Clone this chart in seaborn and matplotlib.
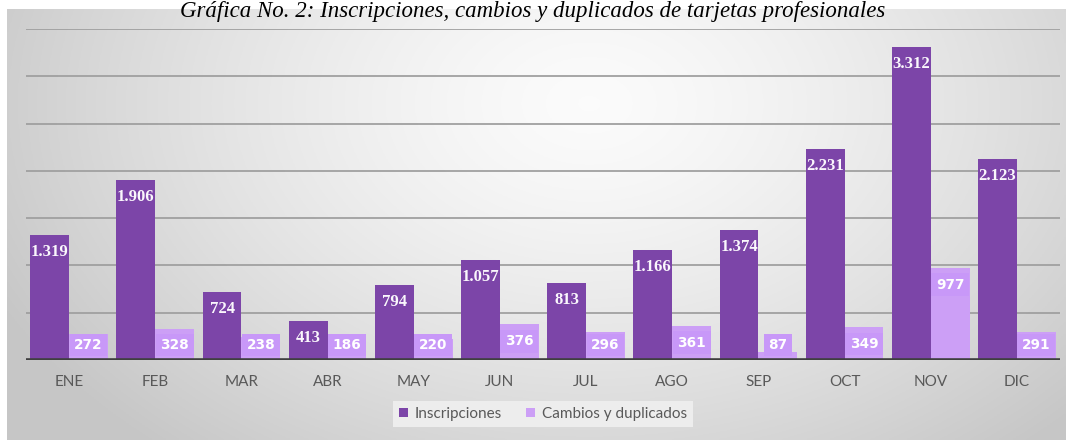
import numpy as np
import pandas as pd
import matplotlib
matplotlib.use("Agg")
import matplotlib.pyplot as plt
import seaborn as sns

# Monthly figures
meses = ["ENE", "FEB", "MAR", "ABR", "MAY", "JUN", "JUL", "AGO", "SEP", "OCT", "NOV", "DIC"]
inscripciones = [1319, 1906, 724, 413, 794, 1057, 813, 1166, 1374, 2231, 3312, 2123]
cambios = [272, 328, 238, 186, 220, 376, 296, 361, 87, 349, 977, 291]
series = ["Inscripciones", "Cambios y duplicados"]

titulo = "Gráfica No. 2: Inscripciones, cambios y duplicados de tarjetas profesionales"

df = pd.DataFrame({
    "mes": meses * 2,
    "serie": [series[0]] * len(meses) + [series[1]] * len(meses),
    "valor": inscripciones + cambios,
})

sns.set_theme(style="white")
plt.rcParams["font.family"] = ["Lato", "DejaVu Sans"]

W, H = 1066, 440
fig = plt.figure(figsize=(W / 100, H / 100), dpi=100)
fig.patch.set_facecolor("white")

# Grey radial backdrop of the chart panel
px0, py_top = 7, 9
bg = fig.add_axes([px0 / W, 0, 1 - px0 / W, (H - py_top) / H], zorder=0)
gx = np.linspace(0, 1, 400)
gy = np.linspace(0, 1, 200)
X, Y = np.meshgrid(gx, gy)
r = np.sqrt(((X - 0.55) / 0.62) ** 2 + ((Y - 0.78) / 1.05) ** 2)
r = np.clip(r, 0, 1)
light = np.array([0.985, 0.985, 0.985])
dark = np.array([0.78, 0.78, 0.78])
img = light[None, None, :] + (dark - light)[None, None, :] * (r[..., None] ** 1.4)
bg.imshow(img, origin="lower", aspect="auto", extent=[0, 1, 0, 1])
bg.set_axis_off()

ax = fig.add_axes([26 / W, 80 / H, (1060 - 26) / W, (360 - 29) / H], zorder=1)
ax.set_facecolor("none")

c_dark = "#7C45A8"
c_light = "#CC9FF6"
sns.barplot(data=df, x="mes", y="valor", hue="serie", order=meses, hue_order=series,
            palette=[c_dark, c_light], width=0.9, saturation=1, gap=0,
            edgecolor="none", linewidth=0, ax=ax, legend=True)

ax.set_ylim(0, 3500)
ax.set_xlim(-0.5, len(meses) - 0.5)
ax.set_yticks(np.arange(500, 3501, 500))
ax.yaxis.grid(True, color="#A0A0A0", linewidth=1.3)
ax.set_axisbelow(True)
ax.set_yticklabels([])
ax.tick_params(axis="y", length=0)
ax.tick_params(axis="x", length=0, pad=11, labelsize=11, labelcolor="#595959")
ax.set_xlabel("")
ax.set_ylabel("")
for s in ax.spines.values():
    s.set_visible(False)
ax.axhline(0, color="#3F3F3F", linewidth=2.6, zorder=5)

# Value labels inside the top of each bar
units_per_px = 3500 / 331
off = 17 * units_per_px
floor = 15 * units_per_px
for bars, vals, kind in zip(ax.containers, [inscripciones, cambios], ["dark", "light"]):
    for bar, v in zip(bars, vals):
        xc = bar.get_x() + bar.get_width() / 2
        yc = max(v - off, floor)
        lbl = f"{v:,}".replace(",", ".")
        if kind == "dark":
            ax.text(xc, yc, lbl, ha="center", va="center", color="#FAF7FC",
                    fontsize=12, fontweight="bold", family=["Liberation Serif"], zorder=6)
        else:
            ax.text(xc, yc, lbl, ha="center", va="center", color="white",
                    fontsize=9.8, fontweight="bold", family=["DejaVu Sans"], zorder=6,
                    bbox=dict(boxstyle="square,pad=0.33", fc="#C898F8", ec="none"))

handles, labels = ax.get_legend_handles_labels()
ax.legend(handles, labels, loc="center", bbox_to_anchor=(543 / W, 1 - 414 / H),
          bbox_transform=fig.transFigure, ncol=2, frameon=True, fancybox=False,
          facecolor="#EDEDED", edgecolor="none", framealpha=1,
          handlelength=0.6, handleheight=0.6, handletextpad=0.4, columnspacing=1.6,
          fontsize=11, labelcolor="#595959", borderpad=0.4)

fig.text(533 / W, 1 - 1 / H, titulo, ha="center", va="top",
         family=["Liberation Serif"], style="italic", fontsize=16.5, color="black")

fig.savefig("out.png", dpi=100)
